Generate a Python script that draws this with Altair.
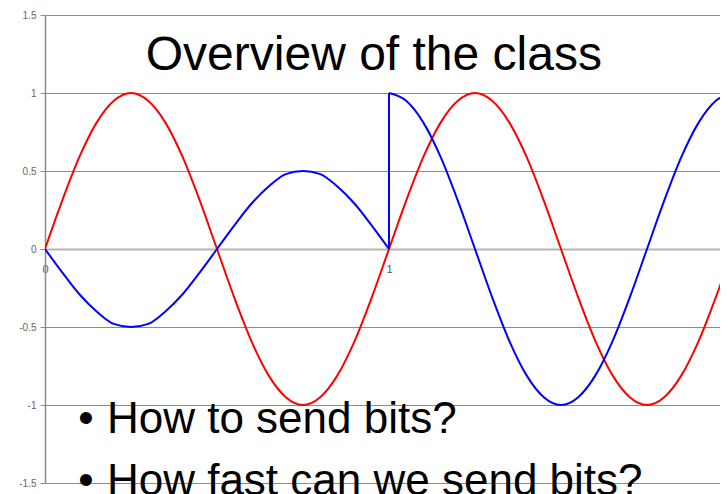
import altair as alt
import pandas as pd

# ---- data ----
red_x = [0.00, 0.05, 0.10, 0.15, 0.20, 0.25, 0.30, 0.35, 0.40, 0.45, 0.50,
         0.55, 0.60, 0.65, 0.70, 0.75, 0.80, 0.85, 0.90, 0.95, 1.00,
         1.05, 1.10, 1.15, 1.20, 1.25, 1.30, 1.35, 1.40, 1.45, 1.50,
         1.55, 1.60, 1.65, 1.70, 1.75, 1.80, 1.85, 1.90, 1.95, 2.00]
red_y = [0.00, 0.31, 0.59, 0.81, 0.95, 1.00, 0.95, 0.81, 0.59, 0.31, 0.00,
         -0.31, -0.59, -0.81, -0.95, -1.00, -0.95, -0.81, -0.59, -0.31, 0.00,
         0.31, 0.59, 0.81, 0.95, 1.00, 0.95, 0.81, 0.59, 0.31, 0.00,
         -0.31, -0.59, -0.81, -0.95, -1.00, -0.95, -0.81, -0.59, -0.31, 0.00]

blue_a_x = [0.00, 0.05, 0.10, 0.15, 0.20, 0.25, 0.30, 0.35, 0.40, 0.45, 0.50,
            0.55, 0.60, 0.65, 0.70, 0.75, 0.80, 0.85, 0.90, 0.95, 1.00]
blue_a_y = [0.00, -0.15, -0.29, -0.40, -0.48, -0.50, -0.48, -0.40, -0.29, -0.15, 0.00,
            0.15, 0.29, 0.40, 0.48, 0.50, 0.48, 0.40, 0.29, 0.15, 0.00]
blue_jump_x = [1.00, 1.00]
blue_jump_y = [0.00, 1.00]
blue_b_x = [1.00, 1.05, 1.10, 1.15, 1.20, 1.25, 1.30, 1.35, 1.40, 1.45, 1.50,
            1.55, 1.60, 1.65, 1.70, 1.75, 1.80, 1.85, 1.90, 1.95, 2.00]
blue_b_y = [1.00, 0.95, 0.81, 0.59, 0.31, 0.00, -0.31, -0.59, -0.81, -0.95, -1.00,
            -0.95, -0.81, -0.59, -0.31, 0.00, 0.31, 0.59, 0.81, 0.95, 1.00]

y_ticks = [-1.5, -1.0, -0.5, 0.0, 0.5, 1.0, 1.5]
x_ticks = [0, 1]

title_text = ["Overview of the class"]
title_x = [0.956]
title_y = [1.15]

bullet_texts = ["How to send bits?", "How fast can we send bits?"]
bullet_text_x = [0.18, 0.18]
bullet_dot_x = [0.119, 0.119]
bullet_y = [-1.179, -1.577]

# ---- tables ----
rows = []
for xv, yv in zip(red_x, red_y):
    rows.append({"x": xv, "y": yv, "series": "red", "seg": "r"})
for xv, yv in zip(blue_a_x, blue_a_y):
    rows.append({"x": xv, "y": yv, "series": "blue", "seg": "a"})
for xv, yv in zip(blue_jump_x, blue_jump_y):
    rows.append({"x": xv, "y": yv, "series": "blue", "seg": "j"})
for xv, yv in zip(blue_b_x, blue_b_y):
    rows.append({"x": xv, "y": yv, "series": "blue", "seg": "b"})
lines_df = pd.DataFrame(rows)

title_df = pd.DataFrame({"x": title_x, "y": title_y, "t": title_text})
bullets_df = pd.DataFrame({"tx": bullet_text_x, "dx": bullet_dot_x,
                           "y": bullet_y, "t": bullet_texts,
                           "dot": ["\u2022"] * len(bullet_texts)})

PLOT_W = 675
X_MAX = PLOT_W / 344.0

xscale = alt.Scale(domain=[0, X_MAX], nice=False, zero=False)
yscale = alt.Scale(domain=[-1.5, 1.5], nice=False, zero=False)

FONT = "Liberation Sans"

xaxis = alt.Axis(values=x_ticks, title=None, orient="bottom", offset=-234,
                 grid=False, ticks=False, domainColor="#b4b4b4", domainWidth=2,
                 labelFont=FONT, labelFontSize=11, labelColor="#555555",
                 labelPadding=14, labelExpr="datum.value", labelFlush=False)
yaxis = alt.Axis(values=y_ticks, title=None, grid=True, gridColor="#8c8c8c",
                 gridWidth=1.2, domainColor="#8c8c8c", domainWidth=1.5,
                 tickColor="#8c8c8c", tickSize=5, labelPadding=4,
                 labelFont=FONT, labelFontSize=10, labelColor="#666666",
                 labelExpr="datum.value")

lines = alt.Chart(lines_df).mark_line(strokeWidth=2, clip=True,
                                      interpolate="monotone").encode(
    x=alt.X("x:Q", scale=xscale, axis=xaxis),
    y=alt.Y("y:Q", scale=yscale, axis=yaxis),
    color=alt.Color("series:N",
                    scale=alt.Scale(domain=["red", "blue"],
                                    range=["#ff0000", "#0000ff"]),
                    legend=None),
    detail="seg:N",
)

title = alt.Chart(title_df).mark_text(font=FONT, fontSize=48, color="black",
                                      align="center", baseline="alphabetic").encode(
    x=alt.X("x:Q", scale=xscale), y=alt.Y("y:Q", scale=yscale), text="t:N")

btext = alt.Chart(bullets_df).mark_text(font=FONT, fontSize=44, color="black",
                                        align="left", baseline="alphabetic").encode(
    x=alt.X("tx:Q", scale=xscale), y=alt.Y("y:Q", scale=yscale), text="t:N")

bdot = alt.Chart(bullets_df).mark_text(font=FONT, fontSize=44, color="black",
                                       align="center", baseline="alphabetic").encode(
    x=alt.X("dx:Q", scale=xscale), y=alt.Y("y:Q", scale=yscale), text="dot:N")

chart = alt.layer(lines, title, btext, bdot).properties(
    width=PLOT_W, height=468,
    autosize=alt.AutoSizeParams(type="none"),
    padding={"left": 37, "top": 7, "right": 0, "bottom": 11},
    background="white",
).configure_view(stroke=None)

chart.save("out.html", embed_options={"renderer": "svg", "actions": False})
